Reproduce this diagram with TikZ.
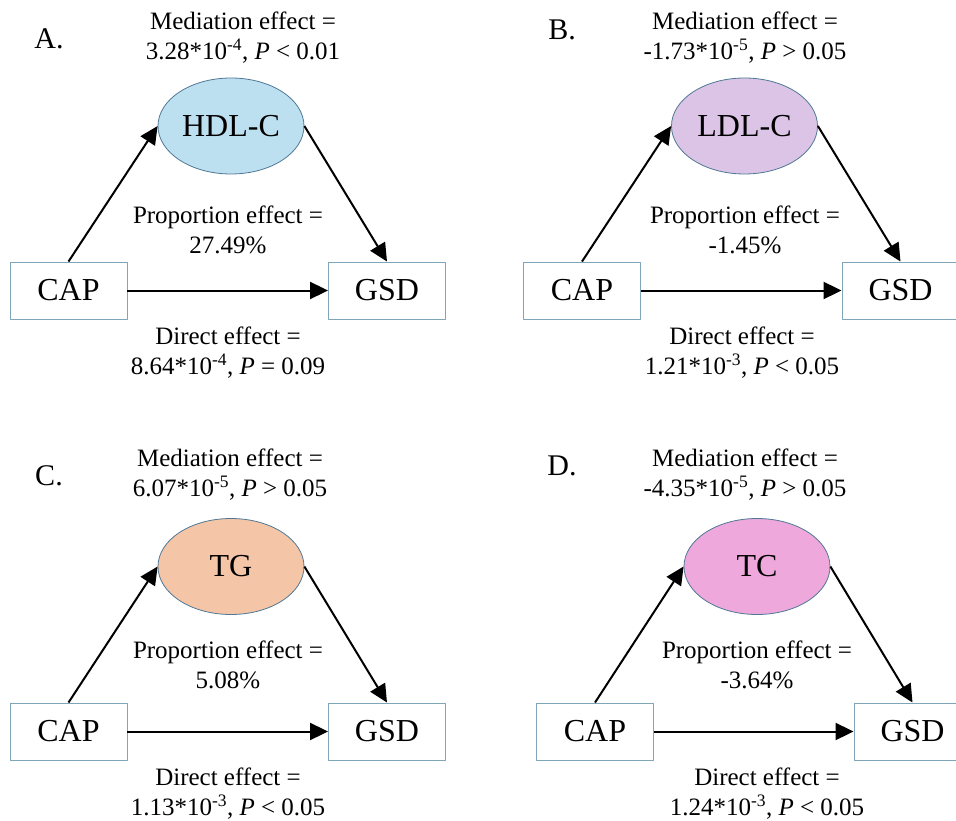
\documentclass[tikz,border=0pt]{standalone}
\usepackage{fontspec}
\setmainfont{Liberation Serif}
\usepackage{tikz}
\usetikzlibrary{arrows.meta,shapes.geometric}
\definecolor{hdlblue}{HTML}{BDE0F1}
\definecolor{ldlpurple}{HTML}{DCC4E6}
\definecolor{tgpeach}{HTML}{F5C5A8}
\definecolor{tcpink}{HTML}{EEA8DC}
\definecolor{boxline}{HTML}{7FA6B8}
\definecolor{ellline}{HTML}{4F7895}
\newcommand{\tenpow}[1]{10\textsuperscript{#1}}

\begin{document}
\begin{tikzpicture}[x=1pt,y=-1pt,line join=round,
    box/.style={draw=boxline,line width=0.9pt,minimum width=117pt,minimum height=57pt,
      inner sep=0pt,font=\fontsize{32}{32}\selectfont},
    medi/.style={ellipse,draw=ellline,line width=0.8pt,minimum width=146pt,minimum height=96pt,
      inner sep=0pt,font=\fontsize{32}{32}\selectfont},
    eff/.style={align=center,inner sep=0pt,font=\fontsize{25}{30}\selectfont},
    tag/.style={inner sep=0pt,font=\fontsize{30}{30}\selectfont},
    arr/.style={-{Triangle[length=18pt,width=17pt]},line width=2pt}]
  \clip (0,0) rectangle (956,821);
  % A: HDL-C
  \node[tag] (atag) at (49,39) {A.};
  \node[eff] (amedtxt) at (243,38) {Mediation effect =\\3.28*\tenpow{-4}, \textit{P} < 0.01};
  \node[medi,fill=hdlblue] (amed) at (231,126) {HDL-C};
  \node[eff] (aprop) at (228,229.5) {Proportion effect =\\27.49\%};
  \node[box] (acap) at (68.5,290.5) {CAP};
  \node[box] (agsd) at (387,290.5) {GSD};
  \node[eff] (adir) at (228,353) {Direct effect =\\8.64*\tenpow{-4}, \textit{P} = 0.09};
  % B: LDL-C
  \node[tag] (btag) at (562,30) {B.};
  \node[eff] (bmedtxt) at (745,38) {Mediation effect =\\-1.73*\tenpow{-5}, \textit{P} > 0.05};
  \node[medi,fill=ldlpurple] (bmed) at (744.5,126) {LDL-C};
  \node[eff] (bprop) at (745,229.5) {Proportion effect =\\-1.45\%};
  \node[box] (bcap) at (582,290.5) {CAP};
  \node[box] (bgsd) at (900.5,290.5) {GSD};
  \node[eff] (bdir) at (742,353) {Direct effect =\\1.21*\tenpow{-3}, \textit{P} < 0.05};
  % C: TG
  \node[tag] (ctag) at (49,476) {C.};
  \node[eff] (cmedtxt) at (230,475) {Mediation effect =\\6.07*\tenpow{-5}, \textit{P} > 0.05};
  \node[medi,fill=tgpeach] (cmed) at (231,566.5) {TG};
  \node[eff] (cprop) at (228,665) {Proportion effect =\\5.08\%};
  \node[box] (ccap) at (68.5,731.5) {CAP};
  \node[box] (cgsd) at (387,731.5) {GSD};
  \node[eff] (cdir) at (228,794) {Direct effect =\\1.13*\tenpow{-3}, \textit{P} < 0.05};
  % D: TC
  \node[tag] (dtag) at (562,466) {D.};
  \node[eff] (dmedtxt) at (745,475) {Mediation effect =\\-4.35*\tenpow{-5}, \textit{P} > 0.05};
  \node[medi,fill=tcpink] (dmed) at (757,566.5) {TC};
  \node[eff] (dprop) at (757,665) {Proportion effect =\\-3.64\%};
  \node[box] (dcap) at (595,731.5) {CAP};
  \node[box] (dgsd) at (912.5,731.5) {GSD};
  \node[eff] (ddir) at (767,794) {Direct effect =\\1.24*\tenpow{-3}, \textit{P} < 0.05};
  % paths of each panel
  \foreach \p in {a,b,c,d}{
    \draw[arr] (\p cap.north) -- (\p med.west);
    \draw[arr] (\p med.east) -- (\p gsd.north);
    \draw[arr] (\p cap.east) -- (\p gsd.west);
  }
\end{tikzpicture}
\end{document}
